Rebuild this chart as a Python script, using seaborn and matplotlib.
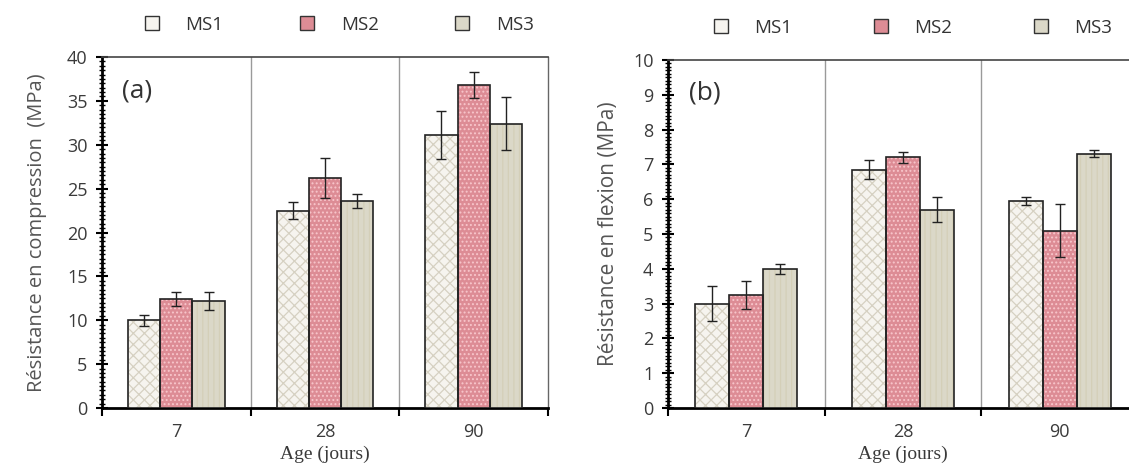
import matplotlib
matplotlib.use("Agg")
import matplotlib.pyplot as plt
import seaborn as sns
import pandas as pd
import numpy as np
from matplotlib.ticker import MultipleLocator

# ---------------- data ----------------
ages = ["7", "28", "90"]
series = ["MS1", "MS2", "MS3"]

comp_ms1 = [10.0, 22.5, 31.1]
comp_ms2 = [12.4, 26.2, 36.8]
comp_ms3 = [12.2, 23.6, 32.4]
comp_err_ms1 = [0.6, 1.0, 2.7]
comp_err_ms2 = [0.8, 2.3, 1.5]
comp_err_ms3 = [1.0, 0.8, 3.0]

flex_ms1 = [3.0, 6.85, 5.95]
flex_ms2 = [3.25, 7.2, 5.1]
flex_ms3 = [4.0, 5.7, 7.3]
flex_err_ms1 = [0.5, 0.28, 0.12]
flex_err_ms2 = [0.4, 0.15, 0.75]
flex_err_ms3 = [0.15, 0.35, 0.1]

colors = {"MS1": "#f7f5ee", "MS2": "#ea7f8a", "MS3": "#deDAc5"}
hatch_cols = {"MS1": "#d6d1c2", "MS2": "#f8c6cb", "MS3": "#d4cfb8"}
hatches = {"MS1": "xxx", "MS2": "....", "MS3": "|||"}


def make_df(v1, v2, v3, e1, e2, e3):
    rows = []
    for s, vals, errs in zip(series, [v1, v2, v3], [e1, e2, e3]):
        for a, v, e in zip(ages, vals, errs):
            rows.append({"Age": a, "Serie": s, "val": v, "err": e})
    return pd.DataFrame(rows)


df_a = make_df(comp_ms1, comp_ms2, comp_ms3, comp_err_ms1, comp_err_ms2, comp_err_ms3)
df_b = make_df(flex_ms1, flex_ms2, flex_ms3, flex_err_ms1, flex_err_ms2, flex_err_ms3)

sns.set_theme(style="white")
plt.rcParams["font.family"] = ["Open Sans", "DejaVu Sans"]
plt.rcParams["hatch.linewidth"] = 0.9

fig = plt.figure(figsize=(11.29, 4.70), dpi=100)
ax_a = fig.add_axes([102 / 1129, 62 / 470, 446 / 1129, 351 / 470])
ax_b = fig.add_axes([668 / 1129, 62 / 470, 470 / 1129, 348 / 470])

tick_col = "#3a3a3a"


def draw(ax, df, ymax, major, minor, ylabel, ylsize, ylpad, panel,
         leg_x, colsp):
    # filled + hatched bars (edge colour = hatch colour)
    sns.barplot(data=df, x="Age", y="val", hue="Serie", order=ages,
                hue_order=series, palette=colors, width=0.65,
                edgecolor="#cccccc", linewidth=0, errorbar=None,
                ax=ax, legend=True, zorder=3)
    for cont, s in zip(ax.containers, series):
        for bar in cont:
            bar.set_hatch(hatches[s])
            bar.set_edgecolor(hatch_cols[s])
    # outlines
    sns.barplot(data=df, x="Age", y="val", hue="Serie", order=ages,
                hue_order=series, fill=False, width=0.65,
                palette={s: "#222222" for s in series},
                linewidth=1.2, errorbar=None, ax=ax, legend=False, zorder=4)
    for cont, s in zip(ax.containers[3:], series):
        errs = df[df.Serie == s].set_index("Age").loc[ages, "err"].values
        for bar, e in zip(cont, errs):
            bar.set_edgecolor("#222222")
            xc = bar.get_x() + bar.get_width() / 2
            ax.errorbar(xc, bar.get_height(), yerr=e, fmt="none",
                        ecolor="#222222", elinewidth=1.0, capsize=3.5,
                        capthick=1.0, zorder=5)
    ax.set_xlim(-0.5, 2.5)
    ax.set_ylim(0, ymax)
    for xv in [0.5, 1.5]:
        ax.axvline(xv, color="#9a9a9a", lw=1.0, zorder=1)
    ax.yaxis.set_major_locator(MultipleLocator(major))
    ax.yaxis.set_minor_locator(MultipleLocator(minor))
    ax.tick_params(axis="y", which="major", direction="inout", length=9,
                   width=1.5, color="black", labelsize=13, labelcolor=tick_col,
                   left=True, pad=6)
    ax.tick_params(axis="y", which="minor", direction="inout", length=5,
                   width=1.0, color="black", left=True)
    ax.set_xticks([0, 1, 2])
    ax.set_xticklabels(ages, fontsize=13, color=tick_col)
    ax.tick_params(axis="x", which="major", length=0, pad=11)
    ax.set_xticks([-0.5, 0.5, 1.5, 2.5], minor=True)
    ax.tick_params(axis="x", which="minor", direction="out", length=6,
                   width=1.5, color="black", bottom=True)
    ax.set_xlabel("Age (jours)", family=["Liberation Serif"], fontsize=14,
                  color=tick_col, labelpad=3)
    ax.set_ylabel(ylabel, fontsize=ylsize, color="#555555", labelpad=ylpad)
    for side in ["left", "bottom"]:
        ax.spines[side].set_color("black")
        ax.spines[side].set_linewidth(2.0)
    ax.spines["top"].set_color("#444444")
    ax.spines["top"].set_linewidth(1.2)
    ax.spines["right"].set_color("#666666")
    ax.spines["right"].set_linewidth(1.0)
    ax.text(0.045, 0.94, panel, transform=ax.transAxes, fontsize=19,
            color="#333333", va="top", ha="left")
    leg = ax.legend(loc="lower left", bbox_to_anchor=(leg_x, 1.045), ncol=3,
                    frameon=False, fontsize=13.5, handlelength=0.75,
                    handleheight=0.75, handletextpad=1.4, columnspacing=colsp,
                    borderaxespad=0)
    for t in leg.get_texts():
        t.set_color("#333333")
    for h, s in zip(leg.legend_handles, series):
        h.set_edgecolor("#333333")
        h.set_linewidth(1.0)
        h.set_hatch(None)


draw(ax_a, df_a, 40, 5, 0.5, "Résistance en compression  (MPa)", 14.5, 14,
     "(a)", 0.08, 4.1)
draw(ax_b, df_b, 10, 1, 0.1, "Résistance en flexion (MPa)", 15, 10,
     "(b)", 0.082, 4.35)

fig.savefig("out.png", dpi=100)
